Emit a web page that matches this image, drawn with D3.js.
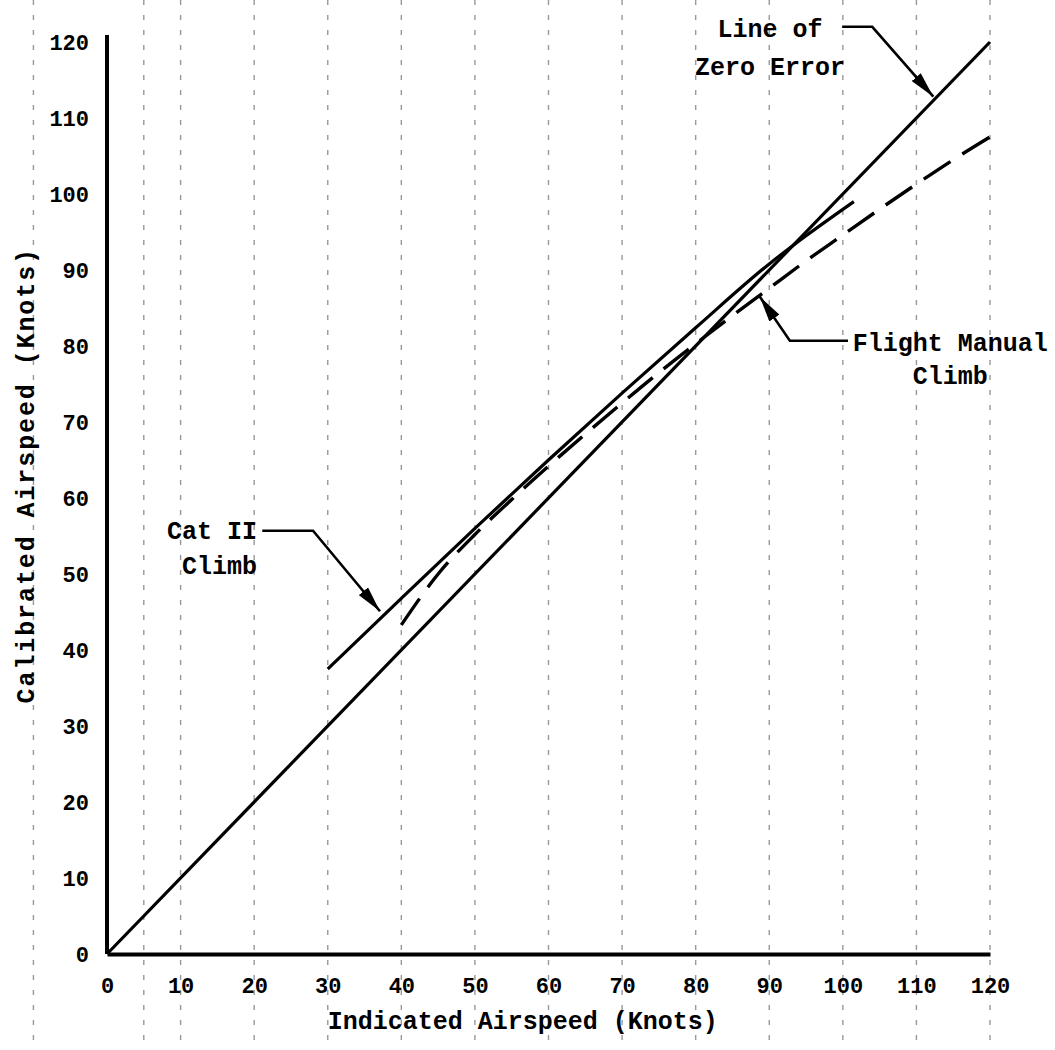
<!DOCTYPE html>
<html><head><meta charset="utf-8">
<script src="https://cdn.jsdelivr.net/npm/d3@7"></script>
<style>body{margin:0;background:#fff}</style>
</head><body>
<svg id="c" width="1055" height="1050"></svg>
<script>
// ---- data ----
const xTicks = [0,10,20,30,40,50,60,70,80,90,100,110,120];
const yTicks = [0,10,20,30,40,50,60,70,80,90,100,110,120];
const zeroX = [0,120];
const zeroY = [0,120];
const catX = [30,40,50,60,70,80,90,95,101.5];
const catY = [37.5,46.8,56.0,65.0,73.8,82.4,90.8,94.5,99.0];
const fmX = [40,45,50,55,60,65,70,75,80,85,90,95,100,105,110,115,120];
const fmY = [43.3,50.0,55.2,59.8,64.2,68.4,72.5,76.5,80.3,84,87.6,91.2,94.6,98,101.3,104.5,107.5];
const paperLinesX = [-10,5,10,20,30,40,50,60,70,80,90,100,110,120];
const xTitle = "Indicated Airspeed (Knots)";
const yTitle = "Calibrated Airspeed (Knots)";
const notes = [
  {lines:["Line of","Zero Error"], at:[90.1,120.7], dy:38, anchor:"middle",
   leader:[[99.9,122.0],[104.0,122.0],[112.3,112.8]]},
  {lines:["Cat II","Climb"], at:[20.4,54.6], dy:35, anchor:"end",
   leader:[[21.1,55.7],[28.0,55.7],[37.1,45.1]]},
  {lines:["Flight Manual","Climb"], at:[114.6,79.4], dy:33, anchor:"middle",
   leader:[[100.7,80.7],[92.8,80.7],[88.7,86.5]]}
];

// ---- drawing ----
const font = "'Liberation Mono', 'DejaVu Sans Mono', monospace";
const svg = d3.select("#c");
const x = d3.scaleLinear().domain([0,120]).range([107,990]);
const y = d3.scaleLinear().domain([0,120]).range([954,42]);

svg.append("defs").append("marker")
  .attr("id","ah").attr("markerUnits","userSpaceOnUse")
  .attr("viewBox","0 0 26 12").attr("refX",26).attr("refY",6)
  .attr("markerWidth",26).attr("markerHeight",12).attr("orient","auto")
  .append("path").attr("d","M0,0 L26,6 L0,12 Z").attr("fill","#000");

// faint paper rulings
svg.append("g").selectAll("line").data(paperLinesX).join("line")
  .attr("x1",d=>x(d)).attr("x2",d=>x(d)).attr("y1",0).attr("y2",1050)
  .attr("stroke","#444").attr("stroke-width",1.4).attr("stroke-dasharray","5,10").attr("opacity",0.55);

// axes
const gx = svg.append("g").attr("transform",`translate(0,${y(0)})`)
  .call(d3.axisBottom(x).tickValues(xTicks).tickSize(0).tickSizeOuter(0).tickPadding(23).tickFormat(d3.format("d")));
const gy = svg.append("g").attr("transform",`translate(${x(0)},0)`)
  .call(d3.axisLeft(y).tickValues(yTicks).tickSize(0).tickSizeOuter(0).tickPadding(18).tickFormat(d3.format("d")));
[gx,gy].forEach(g=>{
  g.select(".domain").attr("stroke","#000").attr("stroke-width",4);
  g.selectAll("text").attr("font-family",font).attr("font-weight","bold").attr("font-size",22).attr("fill","#000");
});
gy.select(".domain").attr("d",`M0,${y(0)}V${y(120)-7}`);

svg.append("text").attr("x",x(56.5)).attr("y",y(0)+75)
  .attr("text-anchor","middle").attr("font-family",font).attr("font-weight","bold").attr("font-size",25)
  .text(xTitle);
svg.append("text").attr("transform",`translate(34,${y(63)}) rotate(-90)`)
  .attr("text-anchor","middle").attr("font-family",font).attr("font-weight","bold").attr("font-size",25)
  .attr("letter-spacing",1.9).text(yTitle);

// lines
const mk = (xs,ys)=>xs.map((v,i)=>[v,ys[i]]);
const line = d3.line().x(d=>x(d[0])).y(d=>y(d[1])).curve(d3.curveMonotoneX);
svg.append("path").datum(mk(zeroX,zeroY)).attr("d",line)
  .attr("fill","none").attr("stroke","#000").attr("stroke-width",3.2);
svg.append("path").datum(mk(catX,catY)).attr("d",line)
  .attr("fill","none").attr("stroke","#000").attr("stroke-width",3.2);
svg.append("path").datum(mk(fmX,fmY)).attr("d",line)
  .attr("fill","none").attr("stroke","#000").attr("stroke-width",3.4).attr("stroke-dasharray","32,14");

// annotations
const lead = d3.line().x(d=>x(d[0])).y(d=>y(d[1]));
notes.forEach(n=>{
  const t = svg.append("text").attr("font-family",font).attr("font-weight","bold").attr("font-size",25)
    .attr("text-anchor",n.anchor);
  n.lines.forEach((s,i)=>t.append("tspan").attr("x",x(n.at[0])).attr("y",y(n.at[1])+i*n.dy).text(s));
  svg.append("path").attr("d",lead(n.leader)).attr("fill","none").attr("stroke","#000")
    .attr("stroke-width",2.6).attr("marker-end","url(#ah)");
});
</script>
</body></html>
